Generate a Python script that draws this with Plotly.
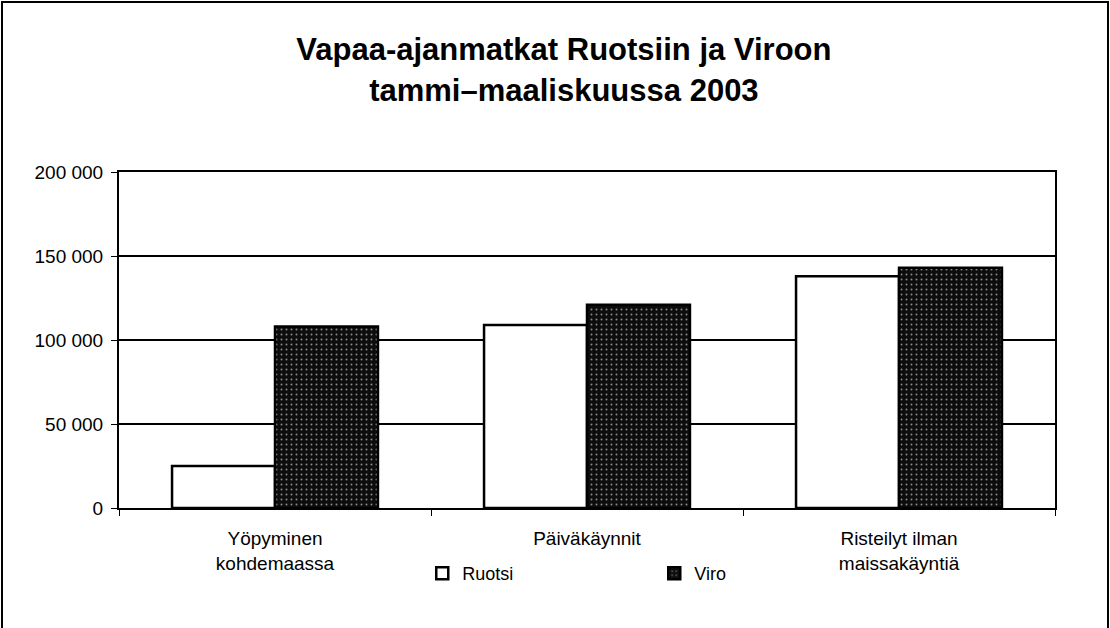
import plotly.graph_objects as go

categories = ["Yöpyminen<br>kohdemaassa", "Päiväkäynnit", "Risteilyt ilman<br>maissakäyntiä"]
ruotsi = [25000, 109000, 138000]
viro = [108000, 121000, 143000]
tick_vals = [0, 50000, 100000, 150000, 200000]
title_text = "Vapaa-ajanmatkat Ruotsiin ja Viroon<br>tammi–maaliskuussa 2003"

FONT = "Liberation Sans, Arial, sans-serif"

fig = go.Figure()
fig.add_trace(go.Bar(
    name="Ruotsi", x=categories, y=ruotsi,
    marker=dict(color="white", line=dict(color="black", width=2.5)),
))
fig.add_trace(go.Bar(
    name="Viro", x=categories, y=viro,
    marker=dict(color="#0d0d0d", line=dict(color="black", width=2.5),
                pattern=dict(shape=".", bgcolor="#0d0d0d", fgcolor="#8a8a8a",
                             size=5, solidity=0.12, fillmode="replace")),
))

W, H = 1110, 628
L, R, T, B = 119, 55, 172, 120
pw, ph = W - L - R, H - T - B

def px_x(p):
    return (p - L) / pw

def px_y(p):
    return (H - B - p) / ph

fig.update_layout(
    width=W, height=H,
    margin=dict(l=L, r=R, t=T, b=B),
    paper_bgcolor="white", plot_bgcolor="white",
    separators=", ",
    font=dict(family=FONT, size=18, color="black"),
    title=dict(text=title_text, x=0.508, xanchor="center", y=0.904, yanchor="middle",
               font=dict(family=FONT, size=31, color="black", weight="bold")),
    barmode="group", bargap=0.34, bargroupgap=0,
    showlegend=True,
    legend=dict(orientation="h", x=0.324, xanchor="left", y=-0.14, yanchor="top",
                entrywidth=187, entrywidthmode="pixels",
                font=dict(family=FONT, size=18), itemwidth=30,
                bgcolor="rgba(0,0,0,0)"),
    xaxis=dict(showline=True, linecolor="black", linewidth=2, mirror=True,
               ticks="outside", tickson="boundaries", ticklen=6, tickcolor="black",
               ticklabelstandoff=12,
               tickfont=dict(family=FONT, size=19), showgrid=False),
    yaxis=dict(range=[0, 200000], tickvals=tick_vals, tickformat=",d",
               showline=True, linecolor="black", linewidth=2, mirror=True,
               ticks="outside", ticklen=6, tickcolor="black",
               ticklabelstandoff=4,
               showgrid=True, gridcolor="black", gridwidth=1.5,
               tickfont=dict(family=FONT, size=19), zeroline=False),
    shapes=[dict(type="rect", xref="paper", yref="paper",
                 x0=px_x(2), x1=px_x(1108), y0=px_y(640), y1=px_y(2),
                 line=dict(color="black", width=2), fillcolor="rgba(0,0,0,0)",
                 layer="below")],
)

fig.write_html("out.html", config={"displayModeBar": False},
               post_script="document.body.style.margin='0';document.body.style.padding='0';")
